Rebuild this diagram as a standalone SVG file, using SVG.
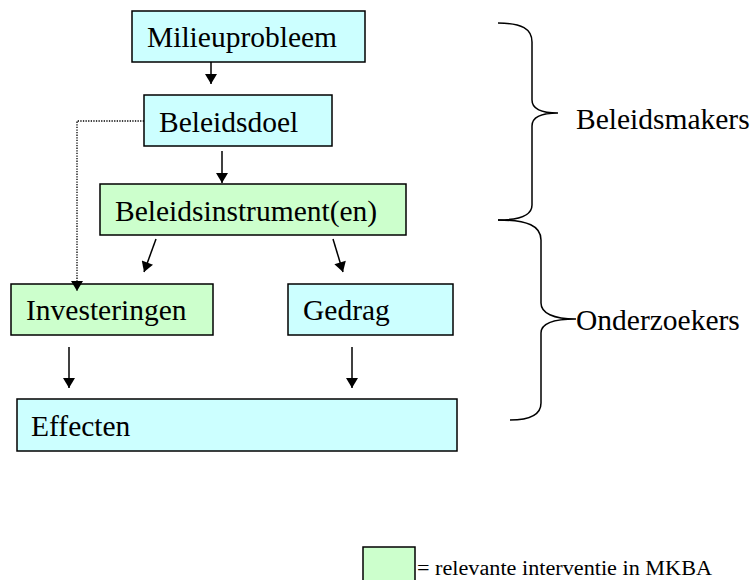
<svg xmlns="http://www.w3.org/2000/svg" width="750" height="580" viewBox="0 0 750 580">
  <style>
    .box { stroke: #000; stroke-width: 1.5; }
    .cyan { fill: #CCFFFF; }
    .green { fill: #CCFFCC; }
    .lbl { font-family: "Liberation Serif", "Times New Roman", serif; font-size: 29.5px; fill: #000; }
    .legend { font-family: "Liberation Serif", "Times New Roman", serif; font-size: 20px; fill: #000; }
    .arrow { stroke: #000; stroke-width: 1.5; fill: none; marker-end: url(#head); }
    .dotted { stroke: #000; stroke-width: 1.3; fill: none; stroke-dasharray: 1.3 1.3; marker-end: url(#head); }
    .brace { stroke: #000; stroke-width: 1.5; fill: none; }
  </style>
  <defs>
    <marker id="head" markerUnits="userSpaceOnUse" markerWidth="12" markerHeight="12" viewBox="0 0 10 12" refX="10" refY="6" orient="auto">
      <path d="M0,0 L10,6 L0,12 Z" fill="#000"/>
    </marker>
  </defs>
  <rect width="750" height="580" fill="#fff"/>

  <g id="milieuprobleem">
    <rect class="box cyan" x="132" y="11" width="233" height="51"/>
    <text class="lbl" x="147" y="47">Milieuprobleem</text>
  </g>
  <g id="beleidsdoel">
    <rect class="box cyan" x="144" y="95" width="188" height="51"/>
    <text class="lbl" x="159" y="132">Beleidsdoel</text>
  </g>
  <g id="beleidsinstrument">
    <rect class="box green" x="100" y="184" width="306" height="51"/>
    <text class="lbl" x="115" y="221">Beleidsinstrument(en)</text>
  </g>
  <g id="investeringen">
    <rect class="box green" x="11" y="284" width="202" height="51"/>
    <text class="lbl" x="26" y="320">Investeringen</text>
  </g>
  <g id="gedrag">
    <rect class="box cyan" x="288" y="284" width="165" height="51"/>
    <text class="lbl" x="303" y="320">Gedrag</text>
  </g>
  <g id="effecten">
    <rect class="box cyan" x="17" y="399" width="440" height="52"/>
    <text class="lbl" x="31" y="436">Effecten</text>
  </g>

  <g id="connectors">
    <line class="arrow" x1="211" y1="62" x2="211" y2="84"/>
    <line class="arrow" x1="222" y1="151" x2="222" y2="183"/>
    <line class="arrow" x1="156" y1="239" x2="144" y2="272"/>
    <line class="arrow" x1="333" y1="239" x2="343" y2="272"/>
    <line class="arrow" x1="69" y1="347" x2="69" y2="388"/>
    <line class="arrow" x1="352" y1="347" x2="352" y2="388"/>
    <path class="dotted" d="M144,121 H77 V291"/>
  </g>

  <g id="beleidsmakers">
    <path class="brace" d="M498,23 C522,23 532,29 532,42 L532,100 C532,109 542,113 558,113 C542,113 532,117 532,126 L532,205 C532,215 522,220 498,220"/>
    <text class="lbl" x="576" y="129">Beleidsmakers</text>
  </g>
  <g id="onderzoekers">
    <path class="brace" d="M498,220 C528,220 541,226 541,240 L541,303 C541,313 553,319 576,319 C553,319 541,323 541,333 L541,403 C541,415 530,420 510,420"/>
    <text class="lbl" x="576" y="330">Onderzoekers</text>
  </g>

  <g id="legend">
    <rect class="box green" x="363" y="547" width="52" height="40"/>
    <text class="legend" x="417" y="575" textLength="295" lengthAdjust="spacingAndGlyphs">= relevante interventie in MKBA</text>
  </g>
</svg>
